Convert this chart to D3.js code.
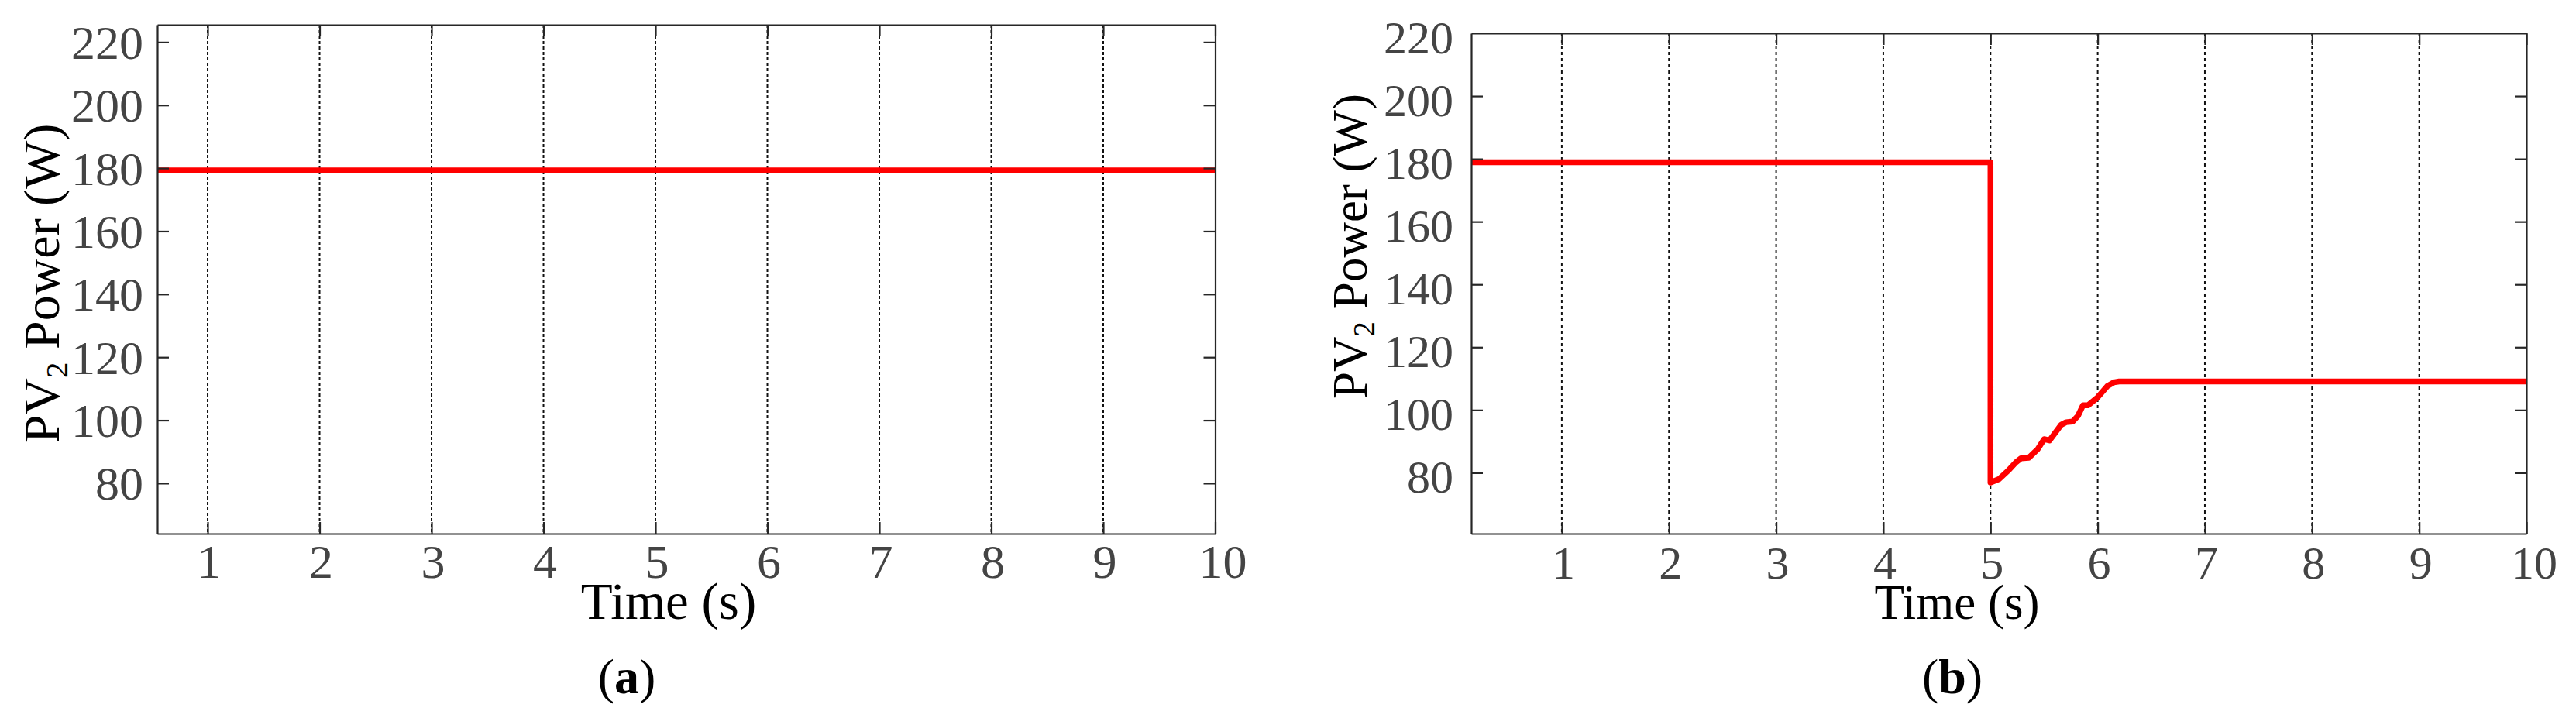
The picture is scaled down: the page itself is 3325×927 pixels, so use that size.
<!DOCTYPE html>
<html>
<head>
<meta charset="utf-8">
<script src="https://cdn.jsdelivr.net/npm/d3@7"></script>
<style>
  html, body { margin: 0; padding: 0; background: #fff; }
  svg { display: block; }
</style>
</head>
<body>
<svg id="chart" width="3325" height="927"></svg>
<script>
// ---------------- data ----------------
const xTicks = [1, 2, 3, 4, 5, 6, 7, 8, 9, 10];
const yTicks = [80, 100, 120, 140, 160, 180, 200, 220];

// Panel (a): PV2 power stays constant
const timeA  = [0.55, 10];
const powerA = [179.3, 179.3];

// Panel (b): PV2 power step down at t = 5 s, then recovers to ~109 W
const timeB  = [0.155, 5.0,   5.0,  5.08, 5.16, 5.236, 5.284, 5.357, 5.44, 5.50, 5.55, 5.66, 5.705, 5.765, 5.815, 5.863, 5.91, 5.996, 6.09, 6.15, 6.2, 10];
const powerB = [178.9, 178.9, 76.9, 78.0, 80.5, 83.3,  84.6,  84.8,  87.5, 90.7, 90.3, 95.3, 96.1,  96.3,  98.1,  101.5, 101.5, 103.9, 107.6, 108.8, 109.1, 109.1];

const xLabel = "Time (s)";
const yLabelMain = "PV", yLabelSub = "2", yLabelRest = " Power (W)";
const captions = ["(", "a", ")"];
const captionsB = ["(", "b", ")"];

// ---------------- drawing ----------------
const svg = d3.select("#chart");
const FONT = "'Liberation Serif', 'Times New Roman', serif";

function panel(cfg) {
  const g = svg.append("g");
  const x = d3.scaleLinear().domain(cfg.xDomain).range([cfg.left, cfg.right]);
  const y = d3.scaleLinear().domain(cfg.yDomain).range([cfg.bottom, cfg.top]);

  // vertical dashed grid lines
  g.append("g").selectAll("line")
    .data(xTicks.filter(t => t < 10))
    .join("line")
    .attr("x1", d => x(d)).attr("x2", d => x(d))
    .attr("y1", cfg.top).attr("y2", cfg.bottom)
    .attr("stroke", "#111").attr("stroke-width", 2)
    .attr("stroke-dasharray", cfg.dash);

  // data line
  const pts = cfg.t.map((t, i) => [t, cfg.p[i]]);
  g.append("path")
    .datum(pts)
    .attr("fill", "none")
    .attr("stroke", "#ff0000")
    .attr("stroke-width", 7.5)
    .attr("stroke-linejoin", "round")
    .attr("d", d3.line().x(d => x(d[0])).y(d => y(d[1])));

  // axes with inward ticks on all sides (MATLAB box style)
  const tl = 15;
  const axStyle = sel => {
    sel.select(".domain").attr("stroke", "#262626").attr("stroke-width", 2.2);
    sel.selectAll(".tick line").attr("stroke", "#262626").attr("stroke-width", 2.2);
  };
  const yt = yTicks.filter(v => v > cfg.yDomain[0] && v < cfg.yDomain[1] - 0.5);

  g.append("g").attr("transform", `translate(0,${cfg.bottom})`)
    .call(d3.axisBottom(x).tickValues(xTicks).tickSize(-tl).tickSizeOuter(0).tickFormat(""))
    .call(axStyle);
  g.append("g").attr("transform", `translate(0,${cfg.top})`)
    .call(d3.axisTop(x).tickValues(xTicks).tickSize(-tl).tickSizeOuter(0).tickFormat(""))
    .call(axStyle);
  g.append("g").attr("transform", `translate(${cfg.left},0)`)
    .call(d3.axisLeft(y).tickValues(yt).tickSize(-tl).tickSizeOuter(0).tickFormat(""))
    .call(axStyle);
  g.append("g").attr("transform", `translate(${cfg.right},0)`)
    .call(d3.axisRight(y).tickValues(yt).tickSize(-tl).tickSizeOuter(0).tickFormat(""))
    .call(axStyle);

  // tick labels
  g.append("g").selectAll("text")
    .data(xTicks).join("text")
    .attr("x", d => x(d) + (d === 10 ? 10 : 2))
    .attr("y", cfg.xLabelBase)
    .attr("text-anchor", "middle")
    .attr("font-family", FONT).attr("font-size", cfg.tickFont)
    .attr("fill", "#444")
    .text(d => d);

  g.append("g").selectAll("text")
    .data(yTicks).join("text")
    .attr("x", cfg.left - cfg.yLabGap)
    .attr("y", d => y(d) + cfg.yLabOff)
    .attr("text-anchor", "end")
    .attr("font-family", FONT).attr("font-size", cfg.tickFont)
    .attr("fill", "#444")
    .text(d => d);

  // axis titles
  g.append("text")
    .attr("x", cfg.xTitleX).attr("y", cfg.xTitleY)
    .attr("text-anchor", "middle")
    .attr("font-family", FONT).attr("font-size", cfg.titleFont)
    .attr("fill", "#000")
    .text(xLabel);

  const yl = g.append("text")
    .attr("transform", `translate(${cfg.yTitleX},${cfg.yTitleY}) rotate(-90)`)
    .attr("text-anchor", "middle")
    .attr("font-family", FONT).attr("font-size", cfg.yTitleFont)
    .attr("fill", "#000");
  yl.append("tspan").text(yLabelMain);
  yl.append("tspan").attr("font-size", cfg.yTitleFont * 0.62).attr("dy", cfg.yTitleFont * 0.16).text(yLabelSub);
  yl.append("tspan").attr("dy", -cfg.yTitleFont * 0.16).text(yLabelRest);

  // caption
  const cap = g.append("text")
    .attr("x", cfg.capX).attr("y", cfg.capY)
    .attr("text-anchor", "middle")
    .attr("font-family", FONT).attr("font-size", 64)
    .attr("fill", "#000");
  cap.append("tspan").text(cfg.cap[0]);
  cap.append("tspan").attr("font-weight", "bold").text(cfg.cap[1]);
  cap.append("tspan").text(cfg.cap[2]);
}

panel({
  xDomain: [0.55, 10], yDomain: [64, 225.5],
  left: 203, right: 1568.5, top: 32, bottom: 689,
  t: timeA, p: powerA, dash: "4,3",
  tickFont: 62, xLabelBase: 746, yLabGap: 18, yLabOff: 21.5,
  titleFont: 67, xTitleX: 863, xTitleY: 799,
  yTitleFont: 66, yTitleX: 76, yTitleY: 366,
  capX: 809, capY: 895, cap: captions
});

panel({
  xDomain: [0.155, 10], yDomain: [60.6, 220],
  left: 1899, right: 3261, top: 43, bottom: 689,
  t: timeB, p: powerB, dash: "4,4",
  tickFont: 60, xLabelBase: 747, yLabGap: 23, yLabOff: 26,
  titleFont: 63, xTitleX: 2526, xTitleY: 799,
  yTitleFont: 63, yTitleX: 1764, yTitleY: 318,
  capX: 2520, capY: 895, cap: captionsB
});
</script>
</body>
</html>
